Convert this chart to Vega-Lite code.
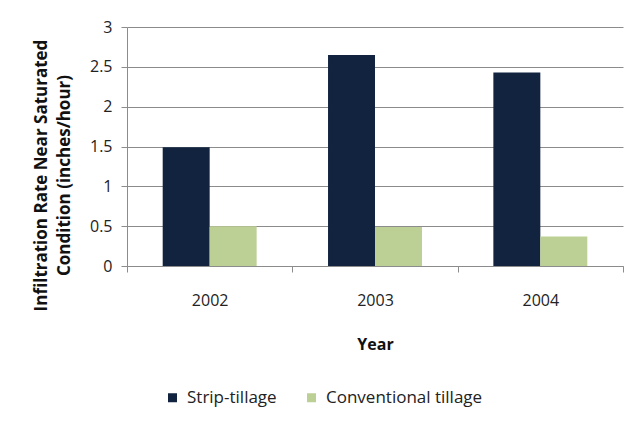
{
  "$schema": "https://vega.github.io/schema/vega-lite/v6.json",
  "width": 496,
  "height": 239,
  "autosize": "none",
  "padding": {"left": 127, "top": 27, "right": 6, "bottom": 157},
  "background": "white",
  "config": {
    "font": "Open Sans",
    "view": {"stroke": null},
    "axis": {
      "labelFont": "Open Sans",
      "labelFontSize": 16,
      "labelColor": "#222222",
      "titleFont": "Open Sans",
      "titleColor": "#111111",
      "domainColor": "#8c8c8c",
      "tickColor": "#8c8c8c",
      "gridColor": "#8c8c8c",
      "gridOpacity": 1
    }
  },
  "data": {
    "values": [
      {"Year": "2002", "Tillage": "Strip-tillage", "Rate": 1.49},
      {"Year": "2002", "Tillage": "Conventional tillage", "Rate": 0.5},
      {"Year": "2003", "Tillage": "Strip-tillage", "Rate": 2.65},
      {"Year": "2003", "Tillage": "Conventional tillage", "Rate": 0.49},
      {"Year": "2004", "Tillage": "Strip-tillage", "Rate": 2.43},
      {"Year": "2004", "Tillage": "Conventional tillage", "Rate": 0.37}
    ]
  },
  "mark": {"type": "bar"},
  "encoding": {
    "x": {
      "field": "Year",
      "type": "nominal",
      "scale": {"paddingInner": 0, "paddingOuter": 0},
      "axis": {
        "title": "Year",
        "labelAngle": 0,
        "tickBand": "extent",
        "tickSize": 6,
        "grid": false,
        "labelPadding": 20,
        "titleFontSize": 16,
        "titleFontWeight": "bold",
        "titlePadding": 28
      }
    },
    "xOffset": {
      "field": "Tillage",
      "type": "nominal",
      "sort": ["Strip-tillage", "Conventional tillage"],
      "scale": {"paddingInner": 0, "paddingOuter": 0.76}
    },
    "y": {
      "field": "Rate",
      "type": "quantitative",
      "scale": {"domain": [0, 3], "nice": false},
      "axis": {
        "values": [0, 0.5, 1, 1.5, 2, 2.5, 3],
        "format": "~g",
        "title": ["Infiltration Rate Near Saturated", "Condition (inches/hour)"],
        "titleFontSize": 17,
        "titleLineHeight": 23,
        "titleFontWeight": "bold",
        "titlePadding": 16,
        "titleY": 148,
        "tickSize": 6,
        "labelPadding": 9,
        "grid": true
      }
    },
    "color": {
      "field": "Tillage",
      "type": "nominal",
      "sort": ["Strip-tillage", "Conventional tillage"],
      "scale": {
        "domain": ["Strip-tillage", "Conventional tillage"],
        "range": ["#11233f", "#bccf94"]
      },
      "legend": {
        "title": null,
        "orient": "none",
        "direction": "horizontal",
        "legendX": 37,
        "legendY": 362,
        "symbolType": "square",
        "symbolSize": 81,
        "symbolStrokeWidth": 0,
        "labelFont": "Open Sans",
        "labelFontSize": 17,
        "labelColor": "#222222",
        "labelOffset": 6,
        "columnPadding": 26
      }
    }
  }
}
